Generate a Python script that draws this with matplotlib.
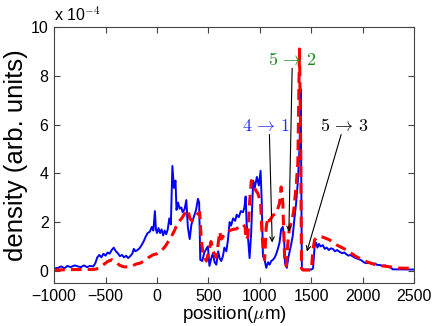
import numpy as np
import matplotlib
matplotlib.use('Agg')
import matplotlib.pyplot as plt

plt.rcParams['font.family'] = ['Liberation Sans', 'DejaVu Sans']
plt.rcParams['mathtext.fontset'] = 'cm'

# ---- data (density in units of 1e-4) ----
blue_x = [-1000, -960, -930, -900, -870, -840, -800, -770, -740, -710, -680, -650, -620, -600,
          -580, -560, -540, -520, -500, -480, -460, -440, -420, -400, -380, -360, -340, -320,
          -300, -280, -260, -240, -225, -210, -190, -170, -150, -130, -110, -90, -70, -50, -35,
          -20, -10, 0, 15, 30, 45, 60, 75, 90, 105, 120, 135, 150, 165, 180, 190, 205, 220, 237,
          250, 270, 285, 300, 318, 335, 350, 365, 380, 398, 410, 421, 440, 460, 480, 495, 510,
          530, 544, 560, 577, 595, 610, 625, 641, 655, 674, 690, 706, 720, 740, 760, 775, 795,
          815, 836, 850, 862, 872, 884, 900, 915, 935, 950, 971, 990, 1007, 1018, 1030, 1046,
          1062, 1080, 1095, 1110, 1127, 1145, 1160, 1175, 1191, 1207, 1223, 1235, 1245, 1262,
          1275, 1290, 1305, 1320, 1335, 1353, 1370, 1385, 1397, 1403, 1408, 1450, 1500, 1517,
          1532, 1548, 1560, 1575, 1590, 1612, 1630, 1650, 1670, 1690, 1709, 1730, 1750, 1774,
          1800, 1820, 1840, 1860, 1880, 1906, 1930, 1960, 1990, 2010, 2033, 2060, 2090, 2120,
          2140, 2162, 2190, 2220, 2250, 2276, 2290, 2500]
blue_y = [0.10, 0.12, 0.18, 0.10, 0.20, 0.15, 0.22, 0.18, 0.15, 0.22, 0.15, 0.20, 0.18, 0.30,
          0.55, 0.65, 0.55, 0.70, 0.62, 0.75, 0.70, 0.85, 0.95, 0.80, 0.72, 0.60, 0.65, 0.55,
          0.62, 0.52, 0.60, 0.70, 0.90, 0.80, 0.85, 0.92, 1.05, 1.20, 1.40, 1.55, 1.60, 1.80, 1.65,
          2.45, 1.70, 1.55, 1.75, 1.55, 1.70, 1.45, 1.65, 1.50, 1.70, 2.15, 1.90, 4.30, 3.40, 3.70,
          2.50, 2.80, 2.55, 2.60, 2.40, 2.55, 2.90, 1.80, 1.30, 1.90, 2.10, 2.30, 2.50, 2.95, 2.80,
          0.45, 0.40, 0.75, 0.90, 1.00, 0.20, 0.55, 0.70, 0.35, 0.25, 0.80, 0.50, 0.40, 0.60,
          0.95, 0.80, 1.27, 2.00, 1.85, 2.15, 2.05, 2.30, 2.20, 2.45, 2.40, 2.60, 3.05, 1.90,
          1.40, 0.52, 1.50, 3.70, 3.40, 3.85, 3.50, 4.10, 2.90, 0.60, 0.45, 0.12, 0.35, 0.25,
          0.40, 0.45, 0.55, 0.70, 0.90, 1.15, 1.70, 1.80, 1.40, 0.30, 0.12, 0.50, 0.80, 1.10,
          1.45, 2.10, 2.80, 3.70, 5.00, 7.45, 3.00, 0.05, 0.05, 0.05, 0.10, 0.99, 1.15, 0.95,
          1.10, 1.00, 1.05, 0.90, 0.95, 0.85, 0.92, 0.90, 0.80, 0.85, 0.78, 0.72, 0.75, 0.68,
          0.62, 0.65, 0.58, 0.52, 0.48, 0.42, 0.35, 0.31, 0.33, 0.27, 0.30, 0.24, 0.24, 0.20,
          0.22, 0.16, 0.12, 0.06, 0.05]

red_x = [-1000, -900, -800, -700, -600, -560, -520, -480, -440, -400, -360, -320, -280, -240,
         -200, -160, -120, -80, -40, 0, 40, 80, 110, 140, 170, 200, 240, 270, 300, 320, 340,
         370, 400, 415, 431, 447, 480, 510, 525, 545, 575, 595, 609, 625, 650, 674, 706, 740,
         771, 800, 836, 856, 868, 884, 900, 917, 940, 960, 981, 1007, 1020, 1030, 1046, 1062,
         1078, 1094, 1127, 1159, 1191, 1207, 1223, 1240, 1256, 1272, 1288, 1310, 1330, 1353,
         1369, 1385, 1395, 1405, 1420, 1500, 1516, 1532, 1564, 1612, 1677, 1742, 1839, 1936,
         2033, 2130, 2230, 2357, 2500]
red_y = [0.03, 0.04, 0.05, 0.05, 0.06, 0.12, 0.25, 0.38, 0.45, 0.35, 0.22, 0.16, 0.16, 0.20,
         0.28, 0.32, 0.42, 0.55, 0.65, 0.70, 0.80, 1.00, 1.20, 1.40, 1.65, 1.95, 2.15, 2.35,
         2.50, 2.15, 2.05, 2.20, 2.35, 2.40, 1.27, 0.70, 0.40, 0.90, 1.20, 0.80, 0.55, 1.10,
         1.60, 1.30, 1.45, 1.55, 1.65, 1.70, 1.72, 1.80, 1.90, 1.80, 1.27, 1.40, 2.80, 3.70,
         3.50, 3.30, 3.17, 2.80, 1.60, 0.99, 0.45, 1.80, 2.20, 2.05, 2.28, 2.35, 2.76, 3.44,
         2.80, 0.58, 0.20, 1.13, 1.80, 2.00, 2.50, 3.50, 4.40, 9.10, 6.00, 0.10, 0.03, 0.03,
         0.86, 1.27, 1.40, 1.38, 1.27, 1.07, 0.86, 0.58, 0.38, 0.24, 0.18, 0.11, 0.10]

labels = [r'$4\,\rightarrow\,1$', r'$5\,\rightarrow\,2$', r'$5\,\rightarrow\,3$']
label_colors = ['#2a2aff', '#1a8a1a', 'black']
label_pos = [(1058, 5.92), (1313, 8.61), (1823, 5.92)]
arrow_from = [(1093, 5.59), (1314, 8.31), (1790, 5.59)]
arrow_to = [(1120, 1.16), (1282, 1.60), (1457, 0.79)]

scale = 1e-4

fig = plt.figure(figsize=(4.36, 3.26), dpi=100)
ax = fig.add_axes([0.124, 0.132, 0.826, 0.785])

ax.plot(blue_x, np.array(blue_y) * scale, color='#0000ff', lw=1.4)
ax.plot(red_x, np.array(red_y) * scale, color='#ff0000', lw=2.2, ls=(0, (3.5, 2)))

for lab, col, pos, a0, a1 in zip(labels, label_colors, label_pos, arrow_from, arrow_to):
    ax.annotate('', xy=(a1[0], a1[1] * scale), xytext=(a0[0], a0[1] * scale),
                arrowprops=dict(arrowstyle='->', lw=0.8, color='k',
                                shrinkA=0, shrinkB=0, mutation_scale=8))
    ax.text(pos[0], pos[1] * scale, lab, color=col, fontsize=13,
            ha='center', va='center')

ax.set_xlim(-1000, 2500)
ax.set_ylim(-0.5e-4, 10e-4)
ax.set_xticks(range(-1000, 2501, 500))
ax.set_yticks(np.arange(0, 11, 2) * scale)
ax.set_yticklabels([str(v) for v in range(0, 11, 2)])
ax.tick_params(direction='in', top=True, right=True, labelsize=11.5, length=4,
               color='#444444', pad=4)
for s in ax.spines.values():
    s.set_color('#444444')

ax.text(0.0, 1.015, r'x 10$^{-4}$', transform=ax.transAxes, fontsize=11.5,
        ha='left', va='bottom')
ax.set_xlabel(r'position($\mu$m)', fontsize=13.5, labelpad=0)
ax.set_ylabel('density (arb. units)', fontsize=18.5, labelpad=2)

fig.savefig('out.png', dpi=100)
